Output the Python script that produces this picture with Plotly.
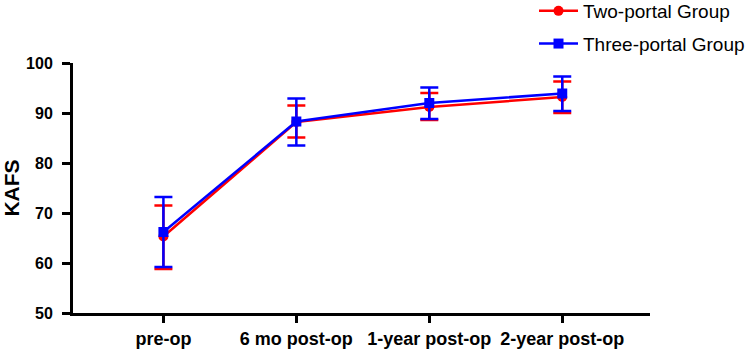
import plotly.graph_objects as go

categories = ["pre-op", "6 mo post-op", "1-year post-op", "2-year post-op"]
two_mean = [65.3, 88.2, 91.2, 93.2]
two_upper = [71.5, 91.5, 94.0, 96.3]
two_lower = [58.8, 85.1, 88.6, 90.0]
three_mean = [66.2, 88.3, 92.0, 93.9]
three_upper = [73.2, 92.9, 95.1, 97.3]
three_lower = [59.2, 83.5, 88.8, 90.4]
y_ticks = [50, 60, 70, 80, 90, 100]

x_idx = list(range(len(categories)))

def err(mean, up, lo):
    return dict(type="data", symmetric=False,
                array=[u - m for u, m in zip(up, mean)],
                arrayminus=[m - l for m, l in zip(mean, lo)])

fig = go.Figure()
e2 = err(two_mean, two_upper, two_lower)
e2.update(color="#ff0000", thickness=2.5, width=9)
fig.add_trace(go.Scatter(x=x_idx, y=two_mean, mode="lines+markers", name="Two-portal Group",
                         line=dict(color="#ff0000", width=2.5),
                         marker=dict(symbol="circle", size=10, color="#ff0000"),
                         error_y=e2, legendgroup="a"))
e3 = err(three_mean, three_upper, three_lower)
e3.update(color="#0000ff", thickness=2.5, width=9)
fig.add_trace(go.Scatter(x=x_idx, y=three_mean, mode="lines+markers", name="Three-portal Group",
                         line=dict(color="#0000ff", width=2.5),
                         marker=dict(symbol="square", size=10, color="#0000ff"),
                         error_y=e3, legendgroup="b"))

fig.update_layout(
    width=751, height=351,
    margin=dict(l=73, r=101, t=63, b=38, autoexpand=False),
    plot_bgcolor="white", paper_bgcolor="white",
    font=dict(family="Liberation Sans, Arial", color="black"),
    showlegend=True,
    legend=dict(x=534 / 751, y=1 + 71 / 250, xanchor="left", yanchor="top", xref="container", yref="paper",
                font=dict(size=19, family="Liberation Sans, Arial"),
                tracegroupgap=5, itemwidth=39, bgcolor="rgba(0,0,0,0)"),
    xaxis=dict(range=[-0.68, 3.66], tickmode="array", tickvals=x_idx, ticktext=categories,
               automargin=False,
               showline=True, linecolor="black", linewidth=3, ticks="outside", ticklen=7,
               tickwidth=3, tickcolor="black", showgrid=False, zeroline=False,
               tickfont=dict(size=18, family="Liberation Sans, Arial", weight="bold")),
    yaxis=dict(range=[50, 100], tickmode="array", tickvals=y_ticks, automargin=False,
               showline=True, linecolor="black", linewidth=3, ticks="outside", ticklen=8,
               tickwidth=3, tickcolor="black", showgrid=False, zeroline=False,
               ticklabelstandoff=6,
               title=dict(text="KAFS", font=dict(size=21, weight="bold")),
               tickfont=dict(size=16, family="Liberation Sans, Arial", weight="bold")),
)
fig.write_html("out.html", config={"displayModeBar": False},
               post_script="document.body.style.margin='0';")
